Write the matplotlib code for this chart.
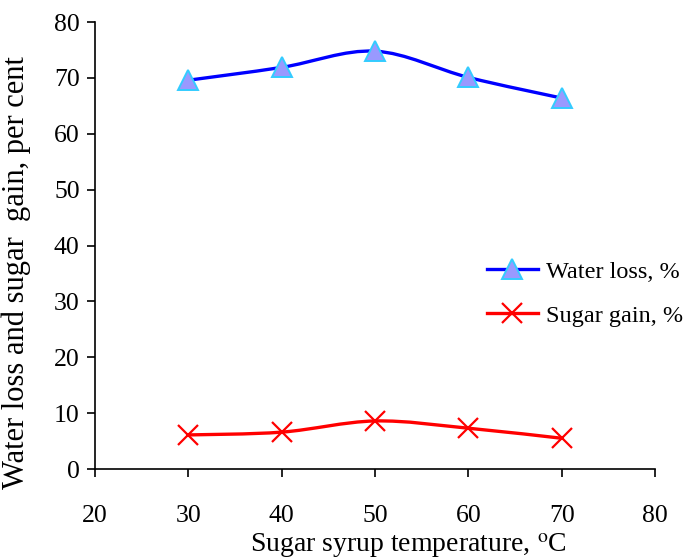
import numpy as np
import matplotlib
matplotlib.use("Agg")
import matplotlib.pyplot as plt
from matplotlib.path import Path
from matplotlib.patches import PathPatch
from matplotlib.lines import Line2D

# data
temperature = [30, 40, 50, 60, 70]
water_loss = [69.6, 71.9, 74.8, 70.1, 66.4]
sugar_gain = [6.1, 6.6, 8.6, 7.3, 5.5]

x_ticks = [20, 30, 40, 50, 60, 70, 80]
y_ticks = [0, 10, 20, 30, 40, 50, 60, 70, 80]

plt.rcParams["font.family"] = ["Liberation Serif", "DejaVu Serif"]
plt.rcParams["mathtext.fontset"] = "stix"


def smooth_path(xs, ys):
    # Excel-style smoothed line: cubic bezier through the points
    pts = np.column_stack([xs, ys]).astype(float)
    n = len(pts)
    verts = [pts[0]]
    codes = [Path.MOVETO]
    for i in range(n - 1):
        p0 = pts[i - 1] if i > 0 else pts[i]
        p1 = pts[i]
        p2 = pts[i + 1]
        p3 = pts[i + 2] if i + 2 < n else pts[i + 1]
        c1 = p1 + (p2 - p0) / 6.0
        c2 = p2 - (p3 - p1) / 6.0
        verts += [c1, c2, p2]
        codes += [Path.CURVE4] * 3
    return Path(verts, codes)


fig = plt.figure(figsize=(6.86, 5.6), dpi=100)
ax = fig.add_axes([0.1385, 0.1625, 0.8165, 0.798])

ax.add_patch(PathPatch(smooth_path(temperature, water_loss), fill=False,
                       edgecolor="#0000FF", lw=2.4, zorder=2))
ax.add_patch(PathPatch(smooth_path(temperature, sugar_gain), fill=False,
                       edgecolor="#FF0000", lw=2.4, zorder=2))

ax.plot(temperature, water_loss, ls="none", marker="^", ms=14,
        mfc="#9999FF", mec="#33CCFF", mew=1.4, zorder=3)
ax.plot(temperature, sugar_gain, ls="none", marker="x", ms=14,
        mec="#FF0000", mew=1.6, zorder=3)

ax.set_xlim(20, 80)
ax.set_ylim(0, 80)
ax.set_xticks(x_ticks)
ax.set_yticks(y_ticks)
ax.tick_params(labelsize=18.5, width=1.2, length=6, direction="out")
ax.tick_params(axis="x", pad=20)
ax.tick_params(axis="y", pad=5)

for s in ["top", "right"]:
    ax.spines[s].set_visible(False)
for s in ["left", "bottom"]:
    ax.spines[s].set_linewidth(1.2)

ax.set_xlabel("Sugar syrup temperature, $^{\\mathrm{o}}$C", fontsize=20)
ax.xaxis.set_label_coords(0.559, -0.139)
ax.set_ylabel("Water loss and sugar  gain, per cent", fontsize=22)
ax.yaxis.set_label_coords(-0.115, 0.44)

handles = [
    Line2D([], [], color="#0000FF", lw=2.4, marker="^", ms=14,
           mfc="#9999FF", mec="#33CCFF", mew=1.4),
    Line2D([], [], color="#FF0000", lw=2.4, marker="x", ms=14,
           mec="#FF0000", mew=1.6),
]
ax.legend(handles, ["Water loss, %", "Sugar gain, %"], loc="upper left",
          bbox_to_anchor=(0.66, 0.515), frameon=False, fontsize=17.5,
          handlelength=2.1, handletextpad=0.35, labelspacing=0.9)

fig.savefig("out.png", dpi=100)
